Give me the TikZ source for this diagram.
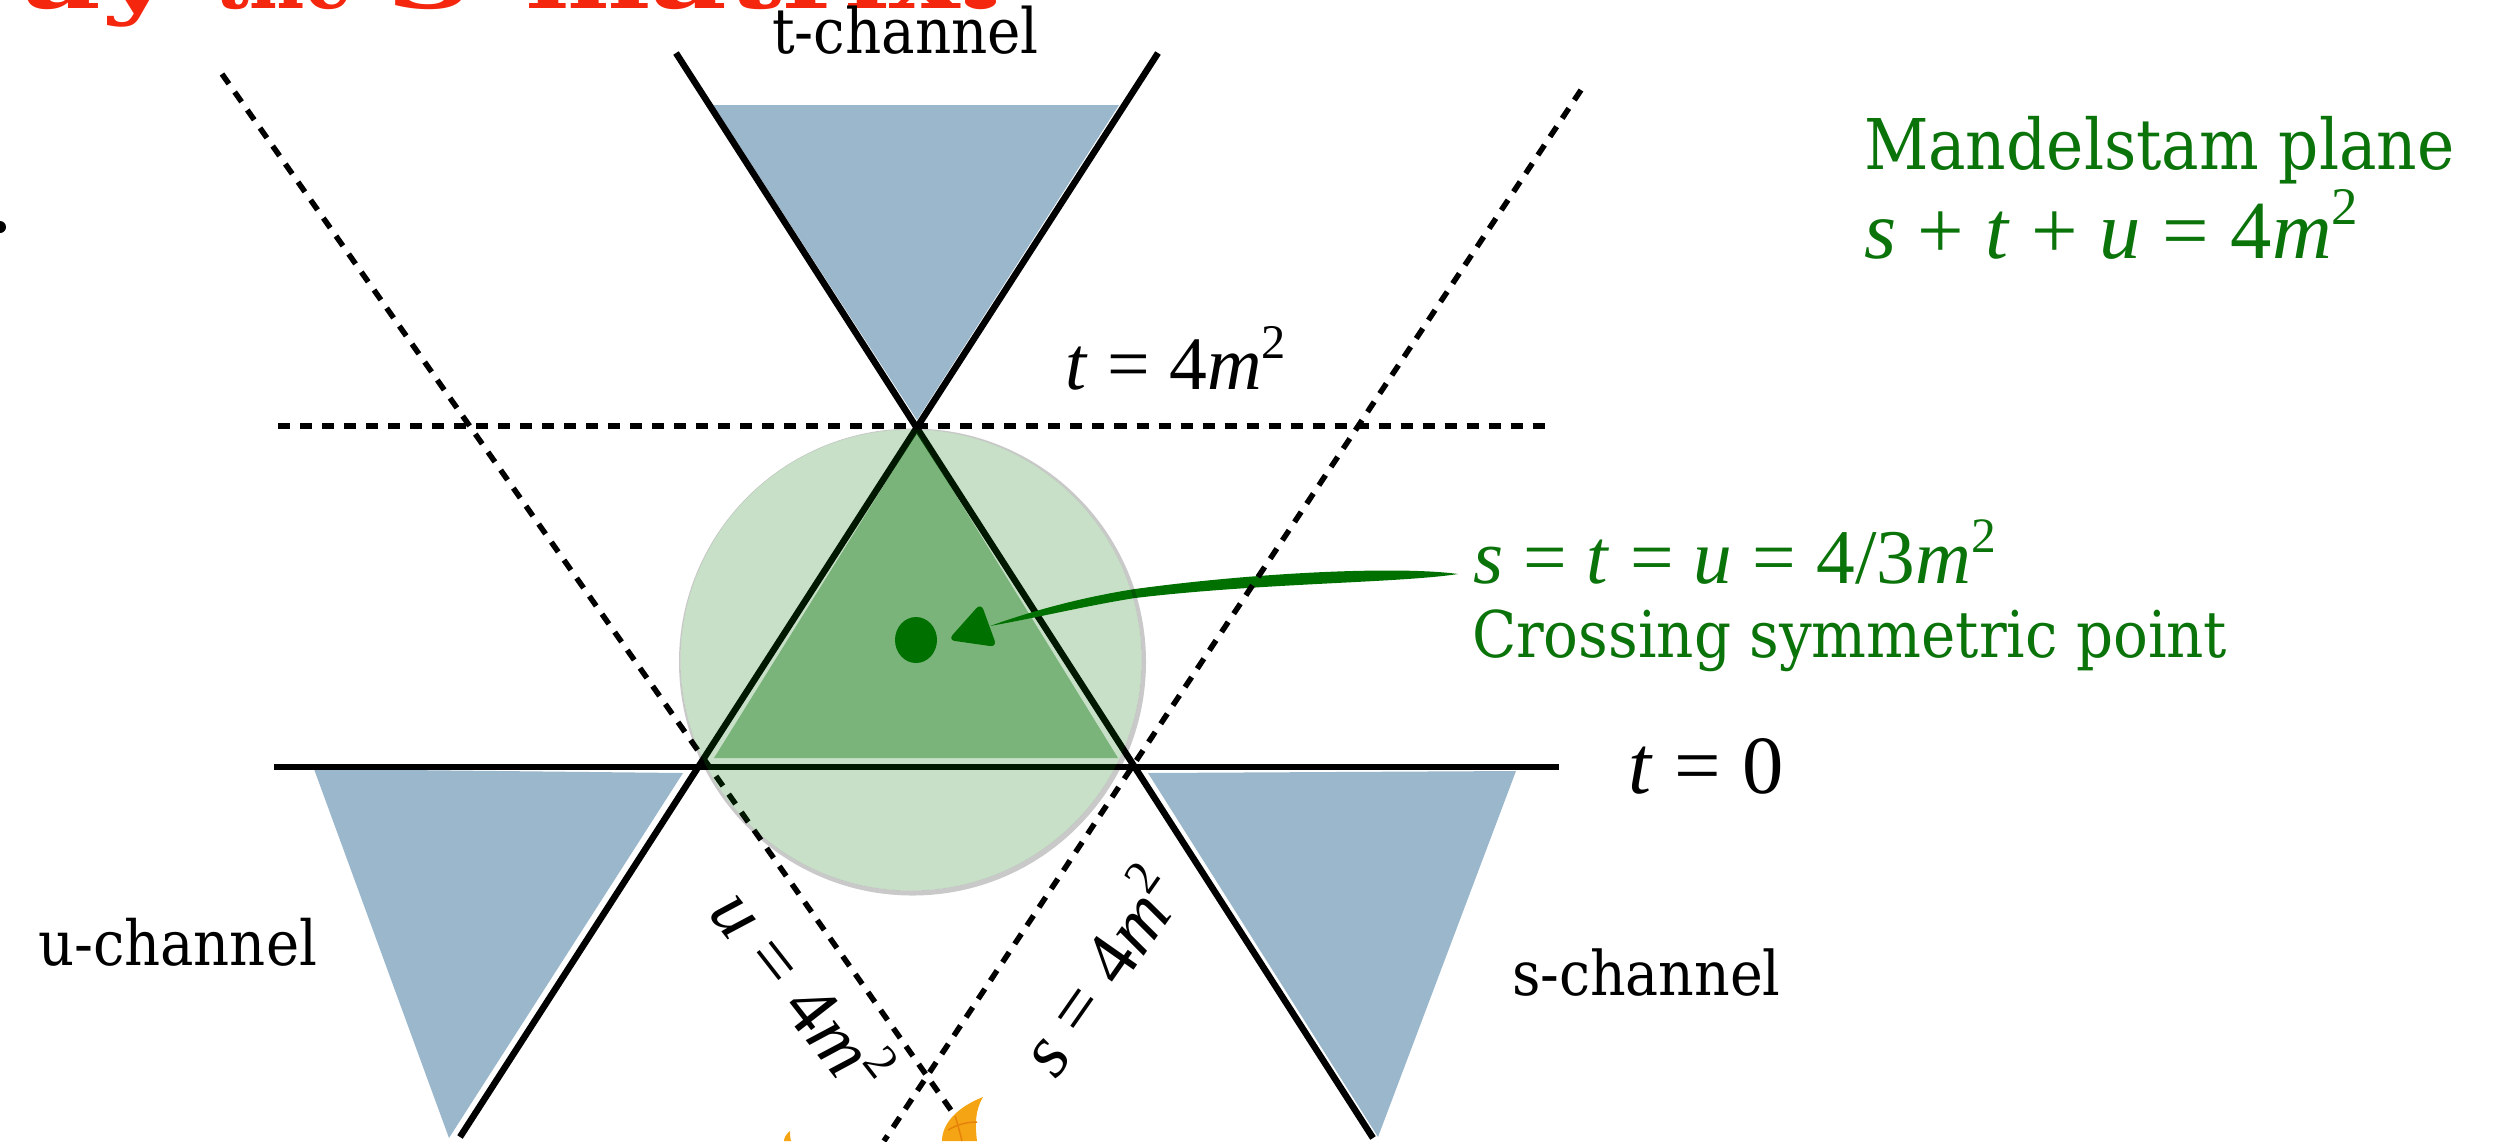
\documentclass[tikz,border=0pt]{standalone}
\usepackage{fontspec}
\setmainfont{Liberation Serif}
\newfontfamily\slab{DejaVu Serif Condensed}
\newfontfamily\titlefont{DejaVu Serif Condensed Bold}
\definecolor{ptgreen}{RGB}{0,112,0}
\definecolor{txtgreen}{RGB}{10,115,10}
\definecolor{chanblue}{RGB}{154,183,204}
\definecolor{titlered}{RGB}{245,38,14}
\definecolor{flameA}{RGB}{245,165,20}
\definecolor{flameB}{RGB}{230,130,10}
\newcommand{\vv}[1]{\textit{#1}}
\newcommand{\gp}{\hspace{0.26em}}
\newcommand{\msq}{\vv{m}\raisebox{0.4em}{\scalebox{0.64}{2}}}
\tikzset{
  solidline/.style={line width=0.065cm,black},
  dashline/.style={line width=0.055cm,black,dash pattern=on 0.12cm off 0.10cm},
  chan/.style={fill=chanblue,draw=none},
  lbl/.style={inner sep=0pt,outer sep=0pt,anchor=base west},
  slabtxt/.style={lbl,font=\slab\fontsize{#1}{22}\selectfont},
  mathtxt/.style={lbl,font=\fontsize{#1}{28}\selectfont},
  redtxt/.style={lbl,text=titlered,font=\titlefont\fontsize{24}{28}\selectfont},
}
\begin{document}
\begin{tikzpicture}[x=0.01cm,y=-0.01cm]
\useasboundingbox (0,0) rectangle (2511,1141);
\begin{scope}
\clip (0,0) rectangle (2511,1141);
% title (cut by the top edge)
\node[redtxt,anchor=base east] (titleA) at (172,8) {\scalebox{1.6}[1]{ay}};
\node[redtxt] (titleB) at (214,8) {the};
\node[redtxt] (titleC) at (386,8) {\scalebox{1.56}[1]{S-matrix}};
\node[redtxt] (titleD) at (937,8) {\scalebox{2.2}[1]{?}};
\fill[black] (0,227) circle [radius=6];
% channels
\fill[chan] (713,105) -- (1119,105) -- (917,420) -- cycle;
\fill[chan] (314,769) -- (683,773) -- (449,1138) -- cycle;
\fill[chan] (1148,773) -- (1516,771) -- (1378,1137) -- cycle;
% solid lines
\coordinate (hL) at (274,767);
\coordinate (hR) at (1559,767);
\coordinate (aT) at (1158,53);
\coordinate (aB) at (460,1137);
\coordinate (bT) at (676,53);
\coordinate (bB) at (1373,1138);
\draw[solidline] (hL) -- (hR);
\draw[solidline] (aB) -- (aT);
\draw[solidline] (bT) -- (bB);
% arrow
\fill[ptgreen] (1458,574) .. controls (1400,566) and (1260,572) .. (1135,589)
  .. controls (1090,596) and (1040,608) .. (990,626)
  .. controls (1040,617) and (1090,605) .. (1135,598)
  .. controls (1260,583) and (1400,583) .. (1458,574) -- cycle;
\fill[ptgreen,rounded corners=2] (981,603) -- (948,640) -- (997,647) -- cycle;
% dashed lines
\coordinate (dhL) at (278,426);
\coordinate (dhR) at (1548,426);
\coordinate (duT) at (222,74);
\coordinate (duB) at (953,1113);
\coordinate (dsT) at (1581,90);
\coordinate (dsB) at (884,1141);
\draw[dashline] (dhL) -- (dhR);
\draw[dashline] (duT) -- (duB);
\draw[dashline] (dsT) -- (dsB);
% physical region
\fill[black,fill opacity=0.21,even odd rule] (912.5,662) circle [radius=233.5] (911,660) circle [radius=230.5];
\fill[ptgreen,fill opacity=0.215] (911,660) circle [radius=230.5];
\fill[ptgreen,fill opacity=0.39] (917,432) -- (1118,758) -- (714,758) -- cycle;
\fill[ptgreen] (916,640) ellipse [x radius=21,y radius=23];
% flames
\fill[flameA] (983,1097) .. controls (955,1108) and (942,1125) .. (942,1141) -- (977,1141)
  .. controls (975,1125) and (975,1110) .. (983,1097) -- cycle;
\draw[flameB,line width=0.015cm] (948,1130) .. controls (958,1124) and (968,1122) .. (977,1122);
\draw[flameB,line width=0.015cm] (955,1116) .. controls (958,1125) and (960,1133) .. (962,1141);
\fill[flameA] (790,1131) .. controls (786,1134) and (784,1138) .. (784,1141) -- (791,1141)
  .. controls (790,1137) and (790,1134) .. (790,1131) -- cycle;
% labels
\node[slabtxt=17.8] (tchan) at (772,53) {t-channel};
\node[slabtxt=17.7] (uchan) at (38,965) {u-channel};
\node[slabtxt=17.5] (schan) at (1512,995) {s-channel};
\node[slabtxt=19.9,text=txtgreen] (mand) at (1864,169) {Mandelstam plane};
\node[slabtxt=18.3,text=txtgreen] (cross) at (1472,657) {Crossing symmetric point};
\node[mathtxt=23.5,text=txtgreen] (sum) at (1864,258) {\vv{s}\gp+\gp\vv{t}\gp+\gp\vv{u}\gp=\gp4\msq};
\node[mathtxt=22,text=txtgreen] (eq) at (1473,583) {\vv{s}\gp=\gp\vv{t}\gp=\gp\vv{u}\gp=\gp4/3\msq};
\node[mathtxt=21.5] (t4) at (1065,389) {\vv{t}\gp=\gp4\msq};
\node[mathtxt=23.5] (t0) at (1628,793) {\vv{t}\gp=\gp0};
\node[mathtxt=21.5,rotate=-52,anchor=base] (u4) at (780,1007) {\vv{u}\gp=\gp4\msq};
\node[mathtxt=21.5,rotate=55,anchor=base] (s4) at (1122,987) {\vv{s}\gp=\gp4\msq};
\end{scope}
\end{tikzpicture}
\end{document}
